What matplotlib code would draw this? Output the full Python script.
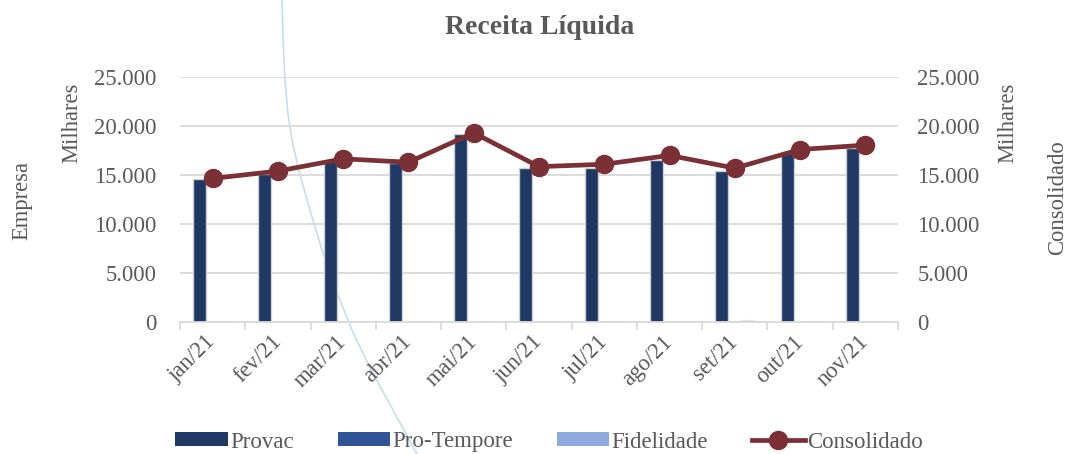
import matplotlib.pyplot as plt
import numpy as np
from matplotlib.lines import Line2D
from matplotlib.patches import Patch
from matplotlib.ticker import FuncFormatter, MultipleLocator

# valores em milhares
months = ["jan/21", "fev/21", "mar/21", "abr/21", "mai/21", "jun/21",
          "jul/21", "ago/21", "set/21", "out/21", "nov/21"]
provac = [14600, 15100, 16400, 16250, 19150, 15700, 15750, 16550, 15450, 17350, 17750]
pro_tempore = [60, 80, 50, 60, 50, 60, 90, 70, 80, 90, 80]
fidelidade = [120, 140, 110, 100, 110, 120, 150, 140, 160, 150, 140]
consolidado = [14650, 15400, 16650, 16300, 19300, 15850, 16100, 17000, 15700, 17600, 18050]

GRAY = "#595959"
FS = 16.3
plt.rcParams["font.family"] = ["Liberation Serif", "DejaVu Serif"]

fig = plt.figure(figsize=(10.68, 4.54), dpi=100)

# linha decorativa do fundo do slide
deco_x = [282, 283, 285, 288, 293, 300, 310, 322, 336, 352, 371, 393, 417]
deco_y = [0, 40, 80, 115, 145, 175, 210, 250, 290, 330, 370, 410, 454]
fig.add_artist(Line2D([v / 1068 for v in deco_x], [1 - v / 454 for v in deco_y],
                      transform=fig.transFigure, color="#C5DDEE", lw=1.2, zorder=0))

ax = fig.add_axes([180 / 1068, 1 - 322 / 454, 718 / 1068, 245 / 454])
ax2 = ax.twinx()
ax.patch.set_visible(False)
ax2.patch.set_visible(False)

x = np.arange(len(months))
w = 0.2
edge = dict(edgecolor="#D0D0D0", linewidth=1.0)
ax.bar(x - w, provac, w, color="#1F3864", **edge, zorder=2)
ax.bar(x, pro_tempore, w, color="#2F5597", edgecolor="#E6E6E6", linewidth=0.8, zorder=2)
ax.bar(x + w, fidelidade, w, color="#8FAADC", edgecolor="#E6E6E6", linewidth=0.8, zorder=2)

ax2.plot(x, consolidado, color="#7B3035", lw=3.4, marker="o", ms=13, zorder=3)

fmt = FuncFormatter(lambda v, p: f"{int(v):,}".replace(",", "."))
for a in (ax, ax2):
    a.set_ylim(0, 25000)
    a.set_xlim(-0.5, len(months) - 0.5)
    a.yaxis.set_major_locator(MultipleLocator(5000))
    a.yaxis.set_major_formatter(fmt)
    for s in a.spines.values():
        s.set_visible(False)
    a.tick_params(axis="y", length=0, labelsize=FS, labelcolor=GRAY)

ax.tick_params(axis="y", pad=17)
ax2.tick_params(axis="y", pad=14)
ax.grid(axis="y", color="#D9D9D9", lw=1.3, zorder=0)
ax.set_axisbelow(True)
ax.spines["bottom"].set_visible(True)
ax.spines["bottom"].set_color("#D9D9D9")
ax.spines["bottom"].set_linewidth(1.3)

ax.set_xticks(x)
ax.set_xticklabels(months, rotation=45, ha="right", va="center",
                   rotation_mode="anchor", fontsize=FS, color=GRAY)
ax.tick_params(axis="x", length=0, pad=12)
ax.set_xticks(np.arange(len(months) + 1) - 0.5, minor=True)
ax.tick_params(axis="x", which="minor", length=6, color="#D9D9D9", width=1.3)

fig.text(540 / 1068, 1 - 27 / 454, "Receita Líquida", ha="center", va="center",
         fontsize=20, fontweight="bold", color=GRAY)
fig.text(22 / 1068, 1 - 200 / 454, "Empresa", rotation=90, ha="center",
         va="center", fontsize=FS, color=GRAY)
fig.text(72 / 1068, 1 - 123 / 454, "Milhares", rotation=90, ha="center",
         va="center", fontsize=FS, color=GRAY)
fig.text(1008 / 1068, 1 - 123 / 454, "Milhares", rotation=90, ha="center",
         va="center", fontsize=FS, color=GRAY)
fig.text(1058 / 1068, 1 - 198 / 454, "Consolidado", rotation=90, ha="center",
         va="center", fontsize=FS, color=GRAY)

handles = [
    Patch(facecolor="#1F3864", edgecolor="none"),
    Patch(facecolor="#2F5597", edgecolor="none"),
    Patch(facecolor="#8FAADC", edgecolor="none"),
    Line2D([], [], color="#7B3035", lw=3.4, marker="o", ms=13),
]
fig.legend(handles, ["Provac", "Pro-Tempore", "Fidelidade", "Consolidado"],
           loc="center", bbox_to_anchor=(549 / 1068, 1 - 442 / 454), ncol=4,
           frameon=False, fontsize=16.5, labelcolor=GRAY, handlelength=2.3,
           handleheight=0.55, handletextpad=0.1, columnspacing=1.9)

fig.savefig("out.png", dpi=100)
